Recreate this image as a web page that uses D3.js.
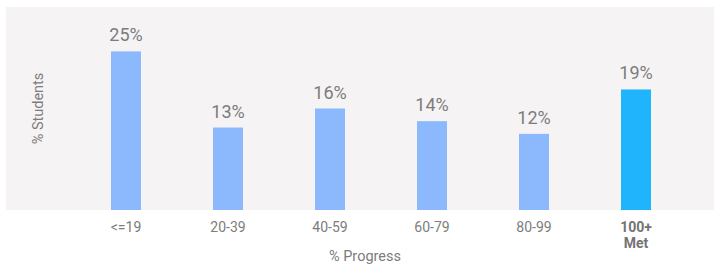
<!DOCTYPE html>
<html>
<head>
<meta charset="utf-8">
<script src="https://cdn.jsdelivr.net/npm/d3@7"></script>
<style>
  body { margin: 0; background: #fff; }
  text { font-family: Roboto, "Noto Sans", sans-serif; }
</style>
</head>
<body>
<svg width="714" height="264"></svg>
<script>
var categories = ["<=19", "20-39", "40-59", "60-79", "80-99", "100+ Met"]
var values = [25, 13, 16, 14, 12, 19]
var highlight = [false, false, false, false, false, true]
var yMax = 32

var plot = {left: 6, right: 714, top: 7, bottom: 210}

var svg = d3.select("svg")

svg.append("rect")
  .attr("x", plot.left).attr("y", plot.top)
  .attr("width", plot.right - plot.left)
  .attr("height", plot.bottom - plot.top)
  .attr("fill", "#f5f3f4")

var xs = d3.scaleBand().domain(categories).range([75, 687]).paddingInner(0.706).paddingOuter(0.353)
var ys = d3.scaleLinear().domain([0, yMax]).range([plot.bottom, plot.top])

var data = categories.map(function(c, i){ return {cat: c, val: values[i], hi: highlight[i]} })

svg.selectAll(".bar").data(data).enter().append("rect")
  .attr("class", "bar")
  .attr("x", function(d){ return xs(d.cat) })
  .attr("y", function(d){ return ys(d.val) })
  .attr("width", xs.bandwidth())
  .attr("height", function(d){ return plot.bottom - ys(d.val) })
  .attr("fill", function(d){ return d.hi ? "#20b4fc" : "#8cb9fd" })

svg.selectAll(".val").data(data).enter().append("text")
  .attr("class", "val")
  .attr("x", function(d){ return xs(d.cat) + xs.bandwidth() / 2 })
  .attr("y", function(d){ return ys(d.val) - 10 })
  .attr("text-anchor", "middle")
  .attr("font-size", "18px")
  .attr("fill", "#7c7c7c")
  .text(function(d){ return d.val + "%" })

// x axis labels (no line / ticks)
var xa = svg.append("g")
  .attr("transform", "translate(0," + plot.bottom + ")")
  .call(d3.axisBottom(xs).tickSize(0).tickPadding(0))
xa.select(".domain").remove()
xa.selectAll(".tick text").remove()
xa.selectAll(".tick").each(function(c, i){
  var t = d3.select(this).append("text")
    .attr("text-anchor", "middle")
    .attr("font-size", "14px")
    .attr("fill", highlight[i] ? "#737373" : "#7c7c7c")
    .attr("font-weight", highlight[i] ? "bold" : "normal")
  var parts = c.split(" ")
  parts.forEach(function(p, j){
    t.append("tspan").attr("x", 0).attr("y", 22 + j * 16).text(p)
  })
})

svg.append("text")
  .attr("x", 365)
  .attr("y", 261)
  .attr("text-anchor", "middle")
  .attr("font-size", "14.5px")
  .attr("fill", "#7c7c7c")
  .text("% Progress")

svg.append("text")
  .attr("transform", "translate(43," + ((plot.top + plot.bottom) / 2) + ") rotate(-90)")
  .attr("text-anchor", "middle")
  .attr("font-size", "14.5px")
  .attr("fill", "#7c7c7c")
  .text("% Students")
</script>
</body>
</html>
